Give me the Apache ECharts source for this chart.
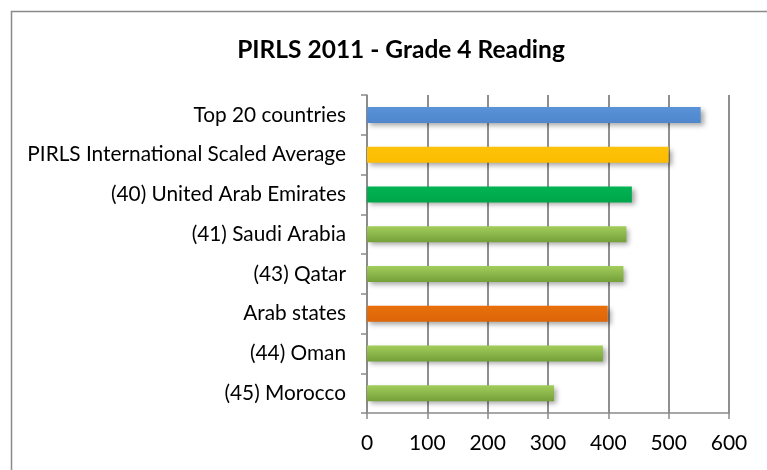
<!DOCTYPE html>
<html>
<head>
<meta charset="utf-8">
<script src="https://cdn.jsdelivr.net/npm/echarts@6/dist/echarts.min.js"></script>
<style>
	html, body { margin: 0; padding: 0; background: #fff; }
	#chart { width: 767px; height: 470px; }
</style>
</head>
<body>
<div id="chart"></div>
<script>
// data
var categories = [
	'Top 20 countries',
	'PIRLS International Scaled Average',
	'(40) United Arab Emirates',
	'(41) Saudi Arabia',
	'(43) Qatar',
	'Arab states',
	'(44) Oman',
	'(45) Morocco'
];
var scores = [553, 500, 439, 430, 425, 399, 391, 310];
var xTicks = [0, 100, 200, 300, 400, 500, 600];

// bar fills, one per category (top colour, bottom colour)
var fills = [
	['#5a93d8', '#4f86cc'],
	['#ffc20a', '#fbbc00'],
	['#00b352', '#00a64b'],
	['#a3cd5c', '#74a03a'],
	['#a3cd5c', '#74a03a'],
	['#e86f0c', '#dd6608'],
	['#a3cd5c', '#74a03a'],
	['#a3cd5c', '#74a03a']
];

var chart = echarts.init(document.getElementById('chart'));

var font = 'Lato, "Open Sans", sans-serif';

var option = {
	animation: false,
	backgroundColor: '#fff',
	title: {
		text: 'PIRLS 2011 - Grade 4 Reading',
		left: 396,
		textAlign: 'center',
		top: 33,
		textStyle: {
			fontFamily: font,
			fontSize: 24.5,
			fontWeight: 'bold',
			color: '#000'
		}
	},
	graphic: [{
		type: 'rect',
		shape: {x: 11.5, y: 11.5, width: 820, height: 520},
		style: {fill: 'none', stroke: '#8a8a8a', lineWidth: 1.5},
		silent: true
	}],
	grid: {
		left: 367,
		right: 38,
		top: 95,
		bottom: 57
	},
	xAxis: {
		type: 'value',
		min: xTicks[0],
		max: xTicks[xTicks.length - 1],
		interval: 100,
		axisLine: {show: true, lineStyle: {color: '#8a8a8a', width: 1.5}},
		axisTick: {show: true, length: 6, lineStyle: {color: '#8a8a8a', width: 1.5}},
		axisLabel: {
			margin: 20,
			fontFamily: font,
			fontSize: 21,
			color: '#000'
		},
		splitLine: {show: true, lineStyle: {color: '#8f8f8f', width: 2}}
	},
	yAxis: {
		type: 'category',
		inverse: true,
		data: categories,
		axisLine: {show: true, lineStyle: {color: '#8a8a8a', width: 1.5}},
		axisTick: {show: true, length: 6, lineStyle: {color: '#8a8a8a', width: 1.5}},
		axisLabel: {
			margin: 21,
			fontFamily: font,
			fontSize: 20.8,
			color: '#000'
		}
	},
	series: [{
		type: 'bar',
		barWidth: 16,
		data: scores.map(function (v, i) {
			return {
				value: v,
				itemStyle: {
					color: new echarts.graphic.LinearGradient(0, 0, 0, 1, [
						{offset: 0, color: fills[i][0]},
						{offset: 1, color: fills[i][1]}
					]),
					shadowColor: 'rgba(0,0,0,0.35)',
					shadowBlur: 5,
					shadowOffsetX: 3,
					shadowOffsetY: 3
				}
			};
		})
	}]
};

chart.setOption(option);
</script>
</body>
</html>
